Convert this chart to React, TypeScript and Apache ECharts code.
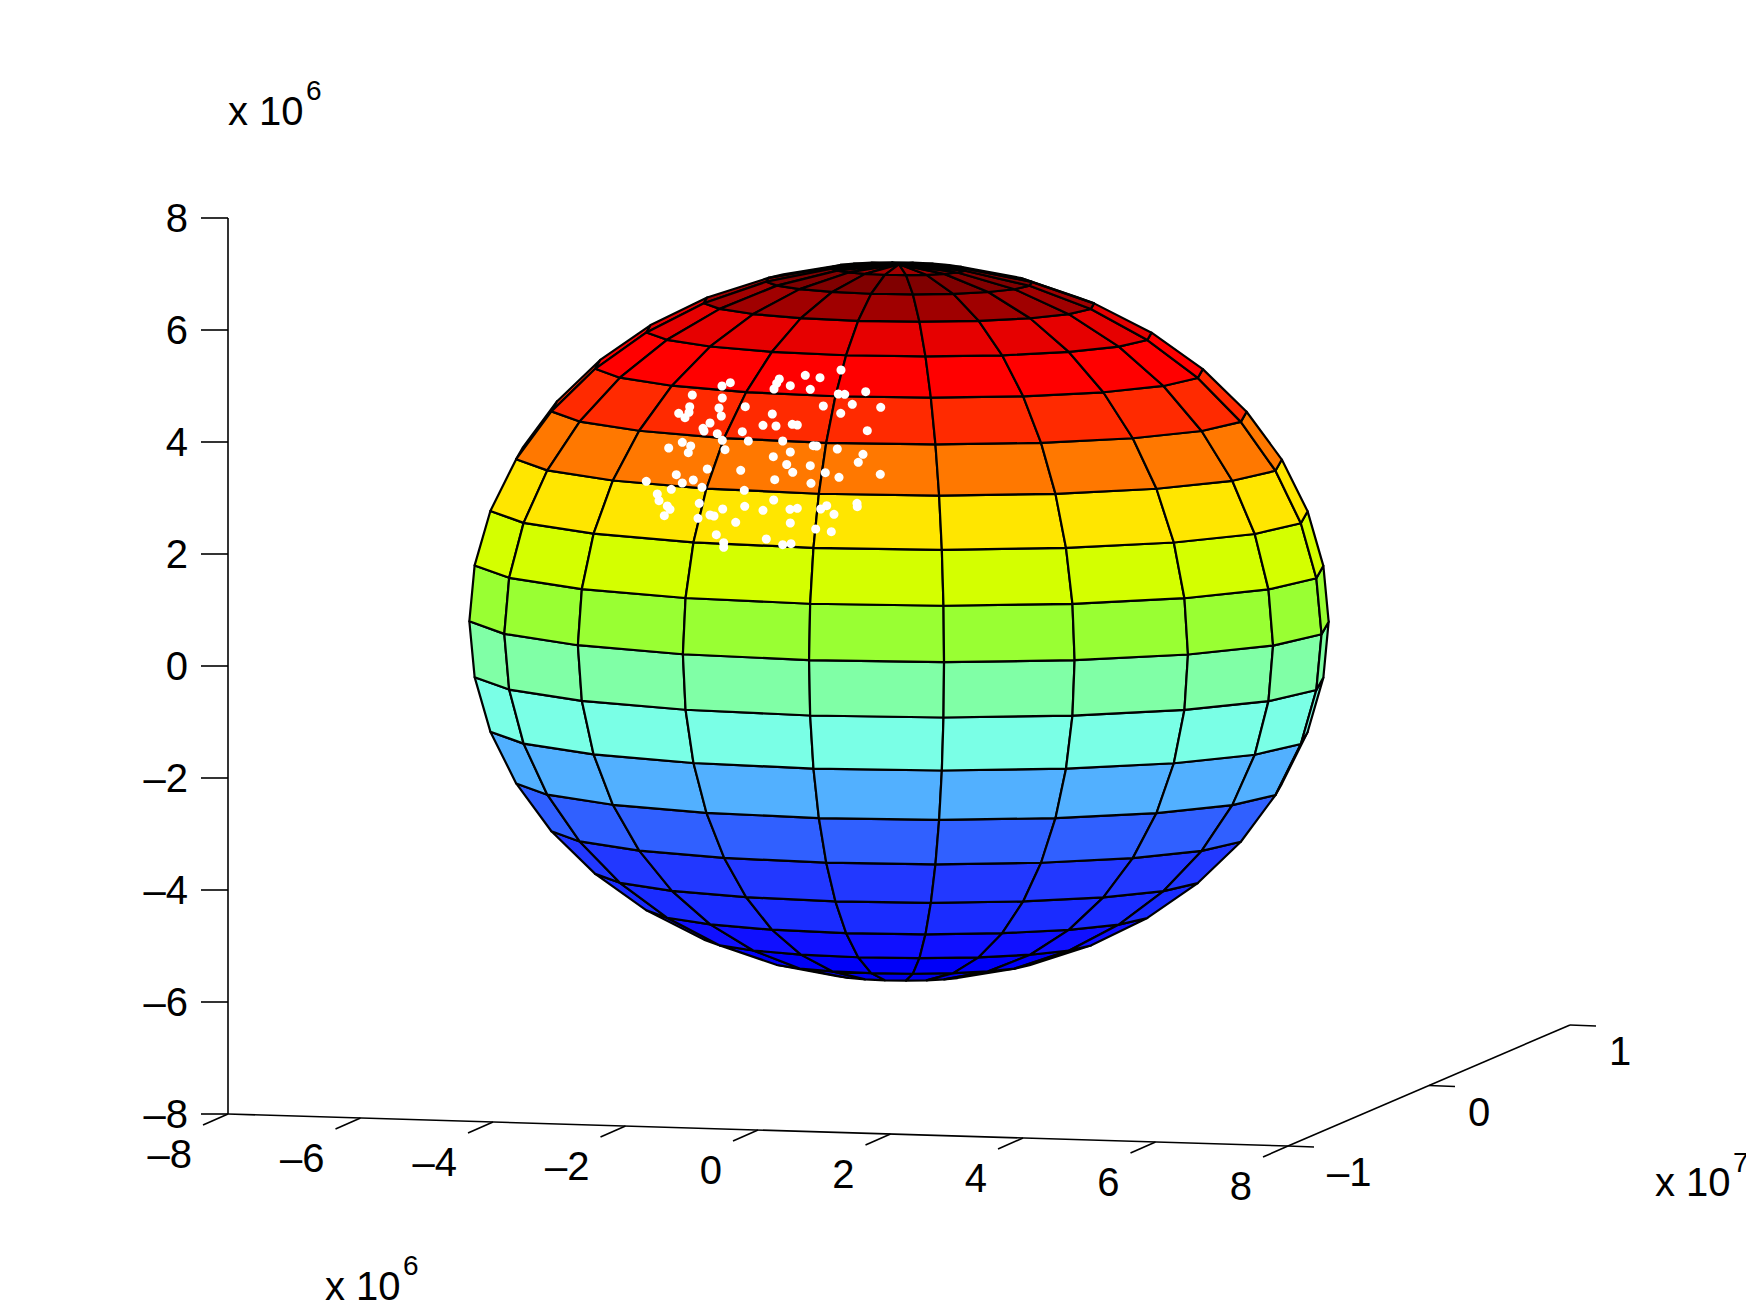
import React, { useEffect, useRef } from "react";
import * as echarts from "echarts";

const SPHERE_RADIUS = 6.378; // x 10^6
const latitudes = [-90, -81, -72, -63, -54, -45, -36, -27, -18, -9, 0, 9, 18, 27, 36, 45, 54, 63, 72, 81, 90];
const longitudes = [-180, -162, -144, -126, -108, -90, -72, -54, -36, -18, 0, 18, 36, 54, 72, 90, 108, 126, 144, 162, 180];
// one colour per latitude band, south to north
const bandColors = [
  "#0000dd", "#0000ee", "#0000f8", "#1010ff", "#1a2cff", "#2238ff", "#3060ff", "#52b0ff", "#7affe6", "#80ffa6",
  "#99ff33", "#d4ff00", "#ffe600", "#ff7800", "#ff2a00", "#ff0000", "#e60000", "#a00000", "#800000", "#a00000",
];
const xTickValues = [-8, -6, -4, -2, 0, 2, 4, 6, 8];
const xTickLabels = ["–8", "–6", "–4", "–2", "0", "2", "4", "6", "8"];
const yTickValues = [-1, 0, 1]; // x 10^7
const yTickLabels = ["–1", "0", "1"];
const zTickValues = [-8, -6, -4, -2, 0, 2, 4, 6, 8];
const zTickLabels = ["–8", "–6", "–4", "–2", "0", "2", "4", "6", "8"];

const dots: [number, number][] = [
  [730.3, 382.7], [722, 386], [692.3, 395], [722.3, 398], [745.3, 406.7], [689.7, 406.7], [719, 408], [678.7, 413.3],
  [689, 412.3], [685, 417.7], [721.3, 416], [710, 423], [703, 428.3], [704, 431], [763, 425.3], [717.3, 433.7],
  [742.3, 431.7], [722.3, 440.3], [748.3, 441], [682.3, 442.3], [668.7, 448], [690.7, 446], [688.3, 452.7], [725, 449.7],
  [841, 370], [805.3, 375.3], [820, 377.7], [779.3, 379], [776.7, 383.3], [790.3, 385.7], [774, 389], [810.3, 389.3],
  [865.7, 391.7], [838.3, 394], [844.7, 394.3], [823.3, 406], [852.3, 404.3], [880.7, 407.3], [772.3, 414], [840.7, 413.3],
  [776, 426], [792.3, 424.3], [797.3, 425], [867.3, 430.7], [782.7, 441], [813.3, 445.7], [816.7, 446], [837.3, 449],
  [863, 454.3], [773.3, 456.7], [790.3, 452], [858.3, 462.3], [786.7, 464.5], [810.3, 465.7],
  [707.3, 469], [740.7, 470.3], [676.3, 474.7], [693.3, 480], [646.3, 481.3], [682.3, 483], [671.3, 489.3], [702, 487.3],
  [744.3, 490.3], [657.3, 494], [659, 500.7], [699.3, 503.3], [667.3, 506], [670, 509.3], [744.7, 506.3], [722.7, 509],
  [763, 510.3], [664.3, 515.7], [710, 515], [714, 516], [698, 518.3], [735.7, 522.3], [716.3, 534.7], [723.7, 542.7],
  [723.7, 547.3], [766.3, 539],
  [792.7, 472.3], [825.3, 472.7], [774.7, 479.7], [839, 477.3], [880.3, 474.3], [811, 483.3], [773.7, 500], [790, 509.3],
  [797.3, 508.3], [826.7, 505.7], [820.7, 509], [857, 503.3], [857.3, 506.7], [834, 514.3], [790.3, 523], [815.7, 529],
  [831.3, 531.7], [782.7, 544.7], [791, 543.7],
];

// Orthographic view of the box: data (x 10^6) to the view plane
const project = (x: number, y: number, z: number): [number, number] => [
  228 + (x + 8) * 66.25 + (y + 10) * 14.1,
  1114 + (x + 8) * 2 - (y + 10) * 6.05 - (z + 8) * 56,
];
const vertex = (lat: number, lon: number): [number, number] => {
  const p = (lat * Math.PI) / 180;
  const t = (lon * Math.PI) / 180;
  return project(
    SPHERE_RADIUS * Math.cos(p) * Math.cos(t),
    SPHERE_RADIUS * Math.cos(p) * Math.sin(t),
    SPHERE_RADIUS * Math.sin(p),
  );
};
const signedArea = (pts: [number, number][]) =>
  pts.reduce((s, a, i) => {
    const b = pts[(i + 1) % pts.length];
    return s + a[0] * b[1] - b[0] * a[1];
  }, 0);

type Seg = [number, number, number, number];
const cells: { pts: [number, number][]; color: string }[] = [];
latitudes.slice(0, -1).forEach((lat, i) => {
  longitudes.slice(0, -1).forEach((lon, j) => {
    const pts = [
      vertex(lat, lon),
      vertex(lat, longitudes[j + 1]),
      vertex(latitudes[i + 1], longitudes[j + 1]),
      vertex(latitudes[i + 1], lon),
    ];
    // the far side of the polar cap is so thin that its mesh lines merge to black
    const farCap = i === latitudes.length - 2 && lon >= 0;
    if (signedArea(pts) < 0) cells.push({ pts, color: farCap ? "#000000" : bandColors[i] });
  });
});

const X0 = xTickValues[0];
const Y0 = yTickValues[0] * 10;
const Z0 = zTickValues[0];
const XN = xTickValues[xTickValues.length - 1];
const YN = yTickValues[yTickValues.length - 1] * 10;
const ZN = zTickValues[zTickValues.length - 1];

const segs: Seg[] = [];
const seg = (a: [number, number], b: [number, number]) => segs.push([a[0], a[1], b[0], b[1]]);
seg(project(X0, Y0, Z0), project(XN, Y0, Z0));
seg(project(XN, Y0, Z0), project(XN, YN, Z0));
seg(project(X0, Y0, Z0), project(X0, Y0, ZN));
const texts: { t: string; x: number; y: number; align: string; size: number }[] = [];
const FS = 40;
xTickValues.forEach((v, i) => {
  const p = project(v, Y0, Z0);
  seg(p, [p[0] - 25, p[1] + 11]);
  texts.push({ t: xTickLabels[i], x: p[0] - 36, y: p[1] + 40, align: "right", size: FS });
});
yTickValues.forEach((v, i) => {
  const p = project(XN, v * 10, Z0);
  seg(p, [p[0] + 26, p[1] + 1]);
  texts.push({ t: yTickLabels[i], x: p[0] + 39, y: p[1] + 26, align: "left", size: FS });
});
zTickValues.forEach((v, i) => {
  const p = project(X0, Y0, v);
  seg(p, [p[0] - 27, p[1]]);
  texts.push({ t: zTickLabels[i], x: 188, y: p[1], align: "right", size: FS });
});
// axis exponents
[
  { base: "x 10", exp: "6", x: 228, base_y: 111, exp_x: 306, exp_y: 90 },
  { base: "x 10", exp: "6", x: 325, base_y: 1286, exp_x: 403, exp_y: 1265 },
  { base: "x 10", exp: "7", x: 1655, base_y: 1182, exp_x: 1733, exp_y: 1162 },
].forEach((e) => {
  texts.push({ t: e.base, x: e.x, y: e.base_y, align: "left", size: FS });
  texts.push({ t: e.exp, x: e.exp_x, y: e.exp_y, align: "left", size: 28 });
});

export default function App() {
  const ref = useRef<HTMLDivElement>(null);
  useEffect(() => {
    document.body.style.margin = "0";
    const chart = echarts.init(ref.current!, undefined, { renderer: "svg" });
    chart.setOption({
      animation: false,
      backgroundColor: "#ffffff",
      grid: { left: 0, right: 0, top: 0, bottom: 0 },
      xAxis: { type: "value", min: 0, max: 1746, show: false },
      yAxis: { type: "value", min: 0, max: 1312, inverse: true, show: false },
      series: [
        {
          type: "custom",
          coordinateSystem: "cartesian2d",
          clip: false,
          silent: true,
          z: 2,
          data: cells.map((_, i) => [i]),
          renderItem: (params: any, api: any) => {
            const c = cells[params.dataIndex];
            return {
              type: "polygon",
              shape: { points: c.pts.map((p) => api.coord(p)) },
              style: { fill: c.color, stroke: "#000000", lineWidth: 2.2, lineJoin: "round" },
            };
          },
        },
        {
          type: "custom",
          coordinateSystem: "cartesian2d",
          clip: false,
          silent: true,
          z: 1,
          data: segs.map((_, i) => [i]),
          renderItem: (params: any, api: any) => {
            const s = segs[params.dataIndex];
            const a = api.coord([s[0], s[1]]);
            const b = api.coord([s[2], s[3]]);
            return {
              type: "line",
              shape: { x1: a[0], y1: a[1], x2: b[0], y2: b[1] },
              style: { stroke: "#000000", lineWidth: 1.6 },
            };
          },
        },
        {
          type: "custom",
          coordinateSystem: "cartesian2d",
          clip: false,
          silent: true,
          z: 1,
          data: texts.map((_, i) => [i]),
          renderItem: (params: any, api: any) => {
            const t = texts[params.dataIndex];
            const c = api.coord([t.x, t.y]);
            return {
              type: "text",
              style: {
                text: t.t,
                x: c[0],
                y: c[1],
                fill: "#000000",
                fontFamily: "Liberation Sans",
                fontSize: t.size,
                align: t.align,
                verticalAlign: "middle",
              },
            };
          },
        },
        {
          type: "scatter",
          symbol: "circle",
          symbolSize: 9,
          silent: true,
          z: 5,
          itemStyle: { color: "#ffffff", opacity: 1 },
          data: dots,
        },
      ],
    });
    return () => chart.dispose();
  }, []);
  return <div ref={ref} style={{ width: 1746, height: 1312 }} />;
}
